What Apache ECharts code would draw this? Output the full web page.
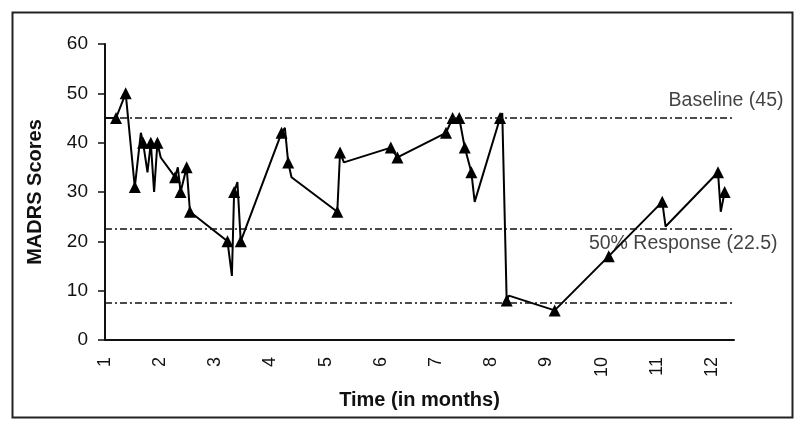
<!DOCTYPE html>
<html>
<head>
<meta charset="utf-8">
<script src="https://cdn.jsdelivr.net/npm/echarts@6/dist/echarts.min.js"></script>
<style>
html,body{margin:0;padding:0;background:#fff;}
#chart{width:800px;height:429px;}
</style>
</head>
<body>
<div id="chart"></div>
<script>
// Time (months) of each recorded point
var months = [1, 1.20, 1.375, 1.54, 1.65, 1.69, 1.77, 1.83, 1.89, 1.95,
  2.01, 2.27, 2.32, 2.37, 2.48, 2.54, 3.22, 3.30, 3.34, 3.40,
  3.46, 4.20, 4.26, 4.32, 4.38, 5.21, 5.26, 5.33, 6.18, 6.30,
  7.18, 7.30, 7.36, 7.42, 7.52, 7.64, 7.70, 8.16, 8.20, 8.28,
  8.32, 9.15, 10.13, 11.10, 11.16, 12.11, 12.16, 12.23];
// MADRS scores
var scores = [45, 45, 50, 31, 42, 40, 34, 40, 30, 40,
  37, 33, 35, 30, 35, 26, 20, 13, 30, 32,
  20, 42, 43, 36, 33, 26, 38, 36, 39, 37,
  42, 45, 44.3, 45, 39, 34, 28, 45, 46, 8,
  9, 6, 17, 28, 23, 34, 26, 30];
// 1 = point drawn with a triangle marker
var markers = [0, 1, 1, 1, 0, 1, 0, 1, 0, 1,
  0, 1, 0, 1, 1, 1, 1, 0, 1, 0,
  1, 1, 0, 1, 0, 1, 1, 0, 1, 1,
  1, 1, 0, 1, 1, 1, 0, 1, 0, 1,
  0, 1, 1, 1, 0, 1, 0, 1];
// Reference lines
var refValues = [45, 22.5, 7.5];
var refLabels = ['Baseline (45)', '50% Response (22.5)', ''];
var xTicks = [1, 2, 3, 4, 5, 6, 7, 8, 9, 10, 11, 12];
var yTicks = [0, 10, 20, 30, 40, 50, 60];

var FONT = '"Liberation Sans", Arial, sans-serif';
var xMin = xTicks[0], xMax = 12.4;

var lineData = months.map(function (m, i) {
  return { value: [m, scores[i]], symbol: markers[i] ? 'triangle' : 'none' };
});

var labelOffsets = [[50, -17], [44, 15], [0, 0]];
var annData = [];
refValues.forEach(function (v, i) {
  if (refLabels[i]) {
    annData.push({
      value: [xMax, v],
      label: {
        show: true, formatter: refLabels[i],
        position: labelOffsets[i], align: 'right', verticalAlign: 'middle',
        fontFamily: FONT, fontSize: 19.5, color: '#111'
      }
    });
  }
});

var chart = echarts.init(document.getElementById('chart'), null, { renderer: 'canvas' });
chart.setOption({
  backgroundColor: '#fff',
  animation: false,
  graphic: [{
    type: 'rect', left: 10, top: 10, z: -1,
    shape: { width: 780, height: 405 },
    style: { fill: 'none', stroke: '#222', lineWidth: 2 }
  }],
  grid: { left: 105, top: 44, right: 66, bottom: 89, containLabel: false },
  xAxis: {
    type: 'value', min: xMin, max: xMax, interval: 1,
    name: 'Time (in months)', nameLocation: 'middle', nameGap: 50,
    nameTextStyle: { fontFamily: FONT, fontSize: 20, fontWeight: 'bold', color: '#111' },
    axisLine: { show: true, onZero: false, lineStyle: { color: '#111', width: 2 } },
    axisTick: { show: false },
    splitLine: { show: false },
    axisLabel: {
      rotate: 90, margin: 17, fontFamily: FONT, fontSize: 18, color: '#111',
      showMaxLabel: false,
      formatter: function (v) { return xTicks.indexOf(v) >= 0 ? String(v) : ''; }
    }
  },
  yAxis: {
    type: 'value', min: yTicks[0], max: yTicks[yTicks.length - 1], interval: 10,
    name: 'MADRS Scores', nameLocation: 'middle', nameGap: 60, nameRotate: 90,
    nameTextStyle: { fontFamily: FONT, fontSize: 20, fontWeight: 'bold', color: '#111' },
    axisLine: { show: true, lineStyle: { color: '#111', width: 2 } },
    axisTick: { show: true, inside: false, length: 7, lineStyle: { color: '#111', width: 1.5 } },
    splitLine: { show: false },
    axisLabel: { margin: 17, fontFamily: FONT, fontSize: 19, color: '#111' }
  },
  series: [{
    type: 'line',
    data: lineData,
    symbolSize: 12,
    showSymbol: true,
    showAllSymbol: true,
    itemStyle: { color: '#000' },
    lineStyle: { color: '#000', width: 2 },
    z: 3,
    markLine: {
      silent: true, symbol: 'none', animation: false,
      label: { show: false },
      lineStyle: { color: '#111', width: 1.5, type: [7, 3, 2, 3] },
      data: refValues.map(function (v) { return { yAxis: v }; })
    }
  }, {
    type: 'scatter',
    data: annData,
    symbolSize: 1,
    itemStyle: { color: 'rgba(0,0,0,0)' },
    silent: true,
    z: 5
  }]
});
</script>
</body>
</html>
